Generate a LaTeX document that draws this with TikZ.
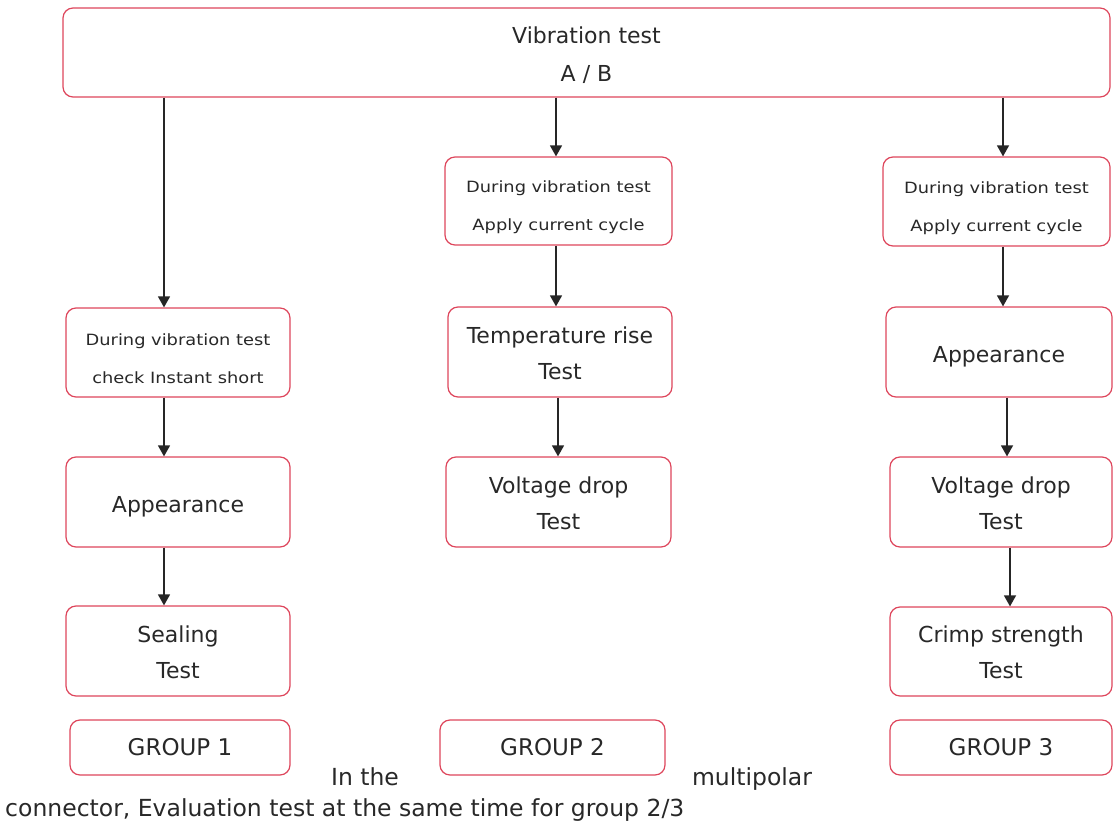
\documentclass[tikz,border=0pt]{standalone}
\usepackage{fontspec}
\setmainfont{DejaVu Sans}
\newfontfamily\smallfnt[FakeStretch=1.15]{DejaVu Sans}
\usetikzlibrary{arrows.meta}
\definecolor{boxred}{RGB}{222,70,92}
\definecolor{txt}{RGB}{40,40,40}
\begin{document}
\begin{tikzpicture}[x=1pt,y=-1pt,
  box/.style={draw=boxred, line width=1.2pt, rounded corners=10pt, fill=white, inner sep=0pt, align=center, text=txt},
  big/.style={box, font=\fontsize{22}{36}\selectfont, text height=54.7pt},
  single/.style={text height=21pt, text depth=0pt},
  sml/.style={box, font=\smallfnt\fontsize{15.5}{38}\selectfont, text height=63pt},
  grp/.style={box, font=\fontsize{23}{28}\selectfont, minimum height=55pt},
  arr/.style={draw=black!85, line width=1.4pt, -{Triangle[length=11pt,width=12pt]}},
  plain/.style={text=txt, inner sep=0pt, font=\fontsize{23.5}{28}\selectfont}]
\useasboundingbox (0,0) rectangle (1113,826);

\node[box, font=\fontsize{22}{38}\selectfont, text height=60.7pt, minimum width=1047pt, minimum height=89pt] (top) at (586.5,52.5) {Vibration test\\A / B};

% group 1
\node[sml, minimum width=224pt, minimum height=89pt] (g1a) at (178,352.5) {During vibration test\\check Instant short};
\node[big, single, minimum width=224pt, minimum height=90pt] (g1b) at (178,502) {Appearance};
\node[big, minimum width=224pt, minimum height=90pt] (g1c) at (178,651) {Sealing\\Test};
\node[grp, minimum width=220pt] (grp1) at (180,747.5) {GROUP 1};

% group 2
\node[sml, minimum width=227pt, minimum height=88pt] (g2a) at (558.5,201) {During vibration test\\Apply current cycle};
\node[big, minimum width=224pt, minimum height=90pt] (g2b) at (560,352) {Temperature rise\\Test};
\node[big, minimum width=225pt, minimum height=90pt] (g2c) at (558.5,502) {Voltage drop\\Test};
\node[grp, minimum width=225pt] (grp2) at (552.5,747.5) {GROUP 2};

% group 3
\node[sml, minimum width=227pt, minimum height=89pt] (g3a) at (996.5,201.5) {During vibration test\\Apply current cycle};
\node[big, single, minimum width=226pt, minimum height=90pt] (g3b) at (999,352) {Appearance};
\node[big, minimum width=222pt, minimum height=90pt] (g3c) at (1001,502) {Voltage drop\\Test};
\node[big, minimum width=222pt, minimum height=89pt] (g3d) at (1001,651.5) {Crimp strength\\Test};
\node[grp, minimum width=222pt] (grp3) at (1001,747.5) {GROUP 3};

% free text
\node[plain, anchor=base] (t1) at (365,785) {In the};
\node[plain, anchor=base] (t2) at (752,785) {multipolar};
\node[plain, anchor=base west] (t3) at (5,816) {connector, Evaluation test at the same time for group 2/3};

% arrow columns
\coordinate (xa) at (164,0);
\coordinate (xb) at (556,0);
\coordinate (xb2) at (558,0);
\coordinate (xc) at (1003,0);
\coordinate (xc2) at (1007,0);
\coordinate (xc3) at (1010,0);

\draw[arr] (top.south -| xa) -- (g1a.north -| xa);
\draw[arr] (g1a.south -| xa) -- (g1b.north -| xa);
\draw[arr] (g1b.south -| xa) -- (g1c.north -| xa);

\draw[arr] (top.south -| xb) -- (g2a.north -| xb);
\draw[arr] (g2a.south -| xb) -- (g2b.north -| xb);
\draw[arr] (g2b.south -| xb2) -- (g2c.north -| xb2);

\draw[arr] (top.south -| xc) -- (g3a.north -| xc);
\draw[arr] (g3a.south -| xc) -- (g3b.north -| xc);
\draw[arr] (g3b.south -| xc2) -- (g3c.north -| xc2);
\draw[arr] (g3c.south -| xc3) -- (g3d.north -| xc3);
\end{tikzpicture}
\end{document}
